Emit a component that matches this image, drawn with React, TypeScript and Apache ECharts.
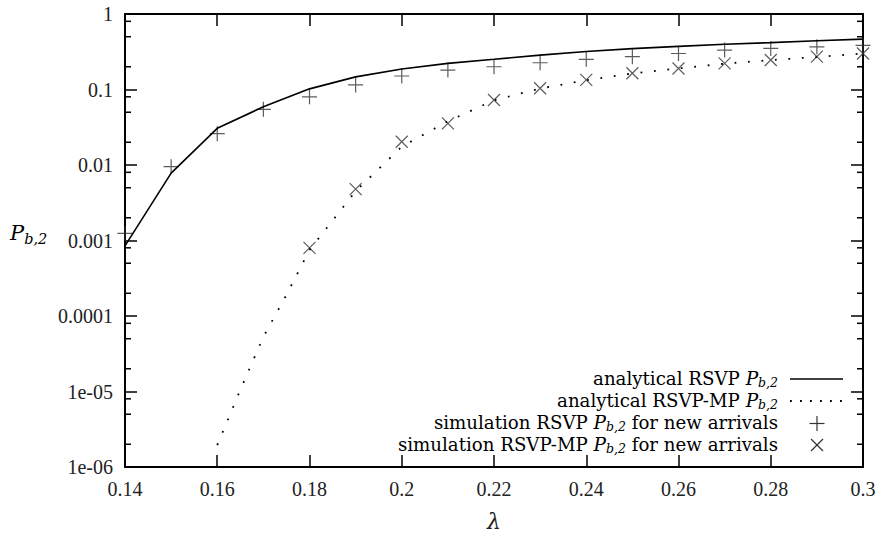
import React, { useEffect, useRef } from "react";
import * as echarts from "echarts";

// ---- data ----
const lambdaValues = [0.14, 0.15, 0.16, 0.17, 0.18, 0.19, 0.2, 0.21, 0.22, 0.23, 0.24, 0.25, 0.26, 0.27, 0.28, 0.29, 0.3];
const analyticalRSVP = [0.00085, 0.0078, 0.0306, 0.059, 0.102, 0.147, 0.187, 0.222, 0.251, 0.285, 0.318, 0.348, 0.373, 0.398, 0.418, 0.443, 0.465];
const simulationRSVP = [0.00124, 0.0095, 0.026, 0.0547, 0.08, 0.115, 0.151, 0.181, 0.2, 0.226, 0.251, 0.272, 0.3, 0.333, 0.35, 0.368, 0.385];

const analyticalMPLambda = [0.16, 0.165, 0.17, 0.175, 0.18, 0.19, 0.2, 0.21, 0.22, 0.23, 0.24, 0.25, 0.26, 0.27, 0.28, 0.29, 0.3];
const analyticalMP = [1.95e-6, 1.05e-5, 5.3e-5, 1.9e-4, 7.5e-4, 0.0045, 0.0175, 0.038, 0.072, 0.103, 0.133, 0.163, 0.19, 0.22, 0.245, 0.27, 0.3];

const simulationMPLambda = [0.18, 0.19, 0.2, 0.21, 0.22, 0.23, 0.24, 0.25, 0.26, 0.27, 0.28, 0.29, 0.3];
const simulationMP = [0.0008, 0.0048, 0.0203, 0.0356, 0.0726, 0.104, 0.134, 0.164, 0.19, 0.222, 0.246, 0.272, 0.3];

const yTickLabels = ["1e-06", "1e-05", "0.0001", "0.001", "0.01", "0.1", "1"];
const yMinorTicks = [
  2e-6, 5e-6, 8e-6, 2e-5, 5e-5, 8e-5, 2e-4, 5e-4, 8e-4,
  2e-3, 5e-3, 8e-3, 2e-2, 5e-2, 8e-2, 0.2, 0.5, 0.8,
];
const legendPrefixes = ["analytical RSVP ", "analytical RSVP-MP ", "simulation RSVP ", "simulation RSVP-MP "];
const legendSuffixes = ["", "", " for new arrivals", " for new arrivals"];

const X_MIN = 0.14;
const X_MAX = 0.3;

const PLUS_PATH = "path://M7,0L7,14M0,7L14,7";
const CROSS_PATH = "path://M0,0L12,12M12,0L0,12";

const TICK_FONT = '"Liberation Serif", serif';
const LEGEND_FONT = '"DejaVu Serif", serif';

export default function App() {
  const ref = useRef<HTMLDivElement>(null);

  useEffect(() => {
    if (!ref.current) return;
    const chart = echarts.init(ref.current, null, { renderer: "svg" });

    const pairs = (xs: number[], ys: number[]) => xs.map((x, i) => [x, ys[i]]);

    const legendRich = {
      n: { fontFamily: LEGEND_FONT, fontSize: 18.2, lineHeight: 20, color: "#222" },
      p: { fontFamily: LEGEND_FONT, fontStyle: "italic", fontSize: 18.5, lineHeight: 20, color: "#222" },
      s: { fontFamily: LEGEND_FONT, fontStyle: "italic", fontSize: 12.5, height: 13, lineHeight: 13, verticalAlign: "bottom", color: "#222" },
    };

    const legendY = [378.5, 400.5, 422.5, 444.5];
    const legendTexts = legendPrefixes.map((pre, i) => ({
      type: "text",
      x: 778,
      y: legendY[i],
      silent: true,
      style: {
        text: `{n|${pre}}{p|P}{s|b,2}` + (legendSuffixes[i] ? `{n|${legendSuffixes[i]}}` : ""),
        rich: legendRich,
        align: "right",
        verticalAlign: "middle",
        textAlign: "right",
        textVerticalAlign: "middle",
      },
    }));

    const option: any = {
      animation: false,
      backgroundColor: "#fff",
      grid: { left: 125, right: 17, top: 14, bottom: 69, outerBoundsMode: "none" },
      xAxis: [
        {
          type: "value",
          min: X_MIN,
          max: X_MAX,
          interval: 0.02,
          position: "bottom",
          splitLine: { show: false },
          axisLine: { onZero: false, lineStyle: { color: "#000", width: 2 } },
          axisTick: { inside: true, length: 12, lineStyle: { color: "#000", width: 1.5 } },
          axisLabel: {
            margin: 12,
            fontFamily: TICK_FONT,
            fontSize: 20,
            color: "#222",
            formatter: (v: number) => String(parseFloat(v.toFixed(2))),
          },
        },
        {
          type: "value",
          min: X_MIN,
          max: X_MAX,
          interval: 0.02,
          position: "top",
          splitLine: { show: false },
          axisLine: { onZero: false, lineStyle: { color: "#000", width: 2 } },
          axisTick: { inside: true, length: 12, lineStyle: { color: "#000", width: 1.5 } },
          axisLabel: { show: false },
        },
      ],
      yAxis: [
        {
          type: "log",
          logBase: 10,
          min: 1e-6,
          max: 1,
          interval: 1,
          position: "left",
          splitLine: { show: false },
          minorTick: { show: false },
          axisLine: { onZero: false, lineStyle: { color: "#000", width: 2 } },
          axisTick: { inside: true, length: 12, lineStyle: { color: "#000", width: 1.5 } },
          axisLabel: {
            margin: 12,
            fontFamily: TICK_FONT,
            fontSize: 20,
            color: "#222",
            formatter: (v: number) => {
              const e = Math.round(Math.log10(v));
              return yTickLabels[e + 6] ?? "";
            },
          },
        },
        {
          type: "log",
          logBase: 10,
          min: 1e-6,
          max: 1,
          interval: 1,
          position: "right",
          splitLine: { show: false },
          axisLine: { onZero: false, lineStyle: { color: "#000", width: 2 } },
          axisTick: { inside: true, length: 12, lineStyle: { color: "#000", width: 1.5 } },
          axisLabel: { show: false },
        },
      ],
      series: [
        {
          name: "minor ticks",
          type: "custom",
          xAxisIndex: 0,
          yAxisIndex: 0,
          silent: true,
          clip: false,
          data: yMinorTicks.map((v) => [X_MIN, v]),
          renderItem: (_params: any, api: any) => {
            const v = api.value(1);
            const pl = api.coord([X_MIN, v]);
            const pr = api.coord([X_MAX, v]);
            const st = { stroke: "#000", lineWidth: 1.5 };
            return {
              type: "group",
              children: [
                { type: "line", shape: { x1: pl[0], y1: pl[1], x2: pl[0] + 6, y2: pl[1] }, style: st },
                { type: "line", shape: { x1: pr[0] - 6, y1: pr[1], x2: pr[0], y2: pr[1] }, style: st },
              ],
            };
          },
        },
        {
          name: "analytical RSVP",
          type: "line",
          data: pairs(lambdaValues, analyticalRSVP),
          showSymbol: false,
          symbol: "none",
          lineStyle: { color: "#000", width: 1.6 },
          silent: true,
        },
        {
          name: "analytical RSVP-MP",
          type: "line",
          data: pairs(analyticalMPLambda, analyticalMP),
          showSymbol: false,
          symbol: "none",
          lineStyle: { color: "#000", width: 1.8, type: [1.8, 11.7], cap: "butt" },
          silent: true,
        },
        {
          name: "simulation RSVP",
          type: "scatter",
          data: pairs(lambdaValues, simulationRSVP),
          symbol: PLUS_PATH,
          symbolSize: 15,
          itemStyle: { color: "rgba(0,0,0,0)", borderColor: "#333", borderWidth: 1.2 },
          silent: true,
        },
        {
          name: "simulation RSVP-MP",
          type: "scatter",
          data: pairs(simulationMPLambda, simulationMP),
          symbol: CROSS_PATH,
          symbolSize: 12,
          itemStyle: { color: "rgba(0,0,0,0)", borderColor: "#333", borderWidth: 1.2 },
          silent: true,
        },
      ],
      graphic: [
        ...legendTexts,
        { type: "line", silent: true, shape: { x1: 790, y1: 379, x2: 843, y2: 379 }, style: { stroke: "#000", lineWidth: 1.6 } },
        { type: "line", silent: true, shape: { x1: 790, y1: 401, x2: 843, y2: 401 }, style: { stroke: "#000", lineWidth: 1.8, lineDash: [1.8, 8.2] } },
        { type: "line", silent: true, shape: { x1: 817, y1: 416, x2: 817, y2: 431 }, style: { stroke: "#333", lineWidth: 1.2 } },
        { type: "line", silent: true, shape: { x1: 809.5, y1: 423.5, x2: 824.5, y2: 423.5 }, style: { stroke: "#333", lineWidth: 1.2 } },
        { type: "line", silent: true, shape: { x1: 811, y1: 439, x2: 823, y2: 451 }, style: { stroke: "#333", lineWidth: 1.2 } },
        { type: "line", silent: true, shape: { x1: 823, y1: 439, x2: 811, y2: 451 }, style: { stroke: "#333", lineWidth: 1.2 } },
        {
          type: "text",
          x: 10,
          y: 233,
          silent: true,
          style: {
            text: "{p|P}{s|b,2}",
            rich: {
              p: { fontFamily: LEGEND_FONT, fontStyle: "italic", fontSize: 21, lineHeight: 22, color: "#222" },
              s: { fontFamily: LEGEND_FONT, fontStyle: "italic", fontSize: 14.5, height: 10, lineHeight: 10, verticalAlign: "bottom", color: "#222" },
            },
            align: "left",
            verticalAlign: "middle",
            textAlign: "left",
            textVerticalAlign: "middle",
          },
        },
        {
          type: "text",
          x: 494,
          y: 521,
          silent: true,
          style: {
            text: "λ",
            font: 'italic 22px "DejaVu Serif"',
            fill: "#222",
            align: "center",
            verticalAlign: "middle",
            textAlign: "center",
            textVerticalAlign: "middle",
          },
        },
      ],
    };

    chart.setOption(option);
    return () => chart.dispose();
  }, []);

  return (
    <div
      ref={ref}
      style={{ position: "fixed", left: 0, top: 0, width: 880, height: 536, background: "#fff" }}
    />
  );
}
